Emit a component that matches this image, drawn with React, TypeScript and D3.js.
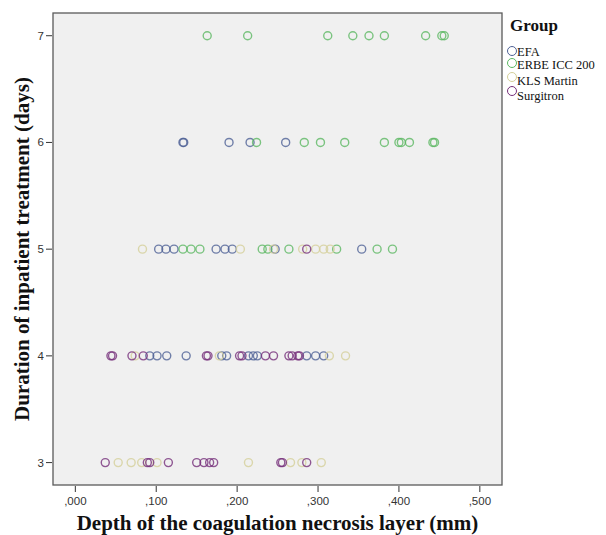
import React from 'react';
import * as d3 from 'd3';

// depth of coagulation necrosis layer (mm) by inpatient days
const groups = ['EFA', 'ERBE ICC 200', 'KLS Martin', 'Surgitron'];
const colors = ['#4f6296', '#5cb863', '#d4d09a', '#76307a'];

const efa = [
  [6, 0.133], [6, 0.134], [6, 0.19], [6, 0.216], [6, 0.26],
  [5, 0.103], [5, 0.112], [5, 0.122], [5, 0.174], [5, 0.185], [5, 0.194], [5, 0.247], [5, 0.354],
  [4, 0.092], [4, 0.101], [4, 0.113], [4, 0.137], [4, 0.181], [4, 0.187], [4, 0.214], [4, 0.22],
  [4, 0.225], [4, 0.286], [4, 0.297], [4, 0.307],
];
const erbe = [
  [7, 0.163], [7, 0.213], [7, 0.312], [7, 0.343], [7, 0.363], [7, 0.382], [7, 0.433], [7, 0.453], [7, 0.456],
  [6, 0.224], [6, 0.283], [6, 0.303], [6, 0.333], [6, 0.382], [6, 0.4], [6, 0.403], [6, 0.413], [6, 0.442], [6, 0.444],
  [5, 0.133], [5, 0.143], [5, 0.154], [5, 0.231], [5, 0.238], [5, 0.264], [5, 0.323], [5, 0.373], [5, 0.392],
];
const kls = [
  [5, 0.083], [5, 0.204], [5, 0.245], [5, 0.281], [5, 0.297], [5, 0.307], [5, 0.315],
  [4, 0.074], [4, 0.178], [4, 0.314], [4, 0.334],
  [3, 0.053], [3, 0.069], [3, 0.082], [3, 0.101], [3, 0.214], [3, 0.266], [3, 0.28], [3, 0.304],
];
const surgitron = [
  [5, 0.286],
  [4, 0.044], [4, 0.046], [4, 0.07], [4, 0.084], [4, 0.162], [4, 0.164], [4, 0.203], [4, 0.206],
  [4, 0.235], [4, 0.245], [4, 0.264], [4, 0.268], [4, 0.275], [4, 0.277],
  [3, 0.037], [3, 0.089], [3, 0.092], [3, 0.115], [3, 0.15], [3, 0.159], [3, 0.166], [3, 0.171],
  [3, 0.254], [3, 0.256], [3, 0.286],
];
const series = [efa, erbe, kls, surgitron];

const xTicks = [0, 0.1, 0.2, 0.3, 0.4, 0.5];
const yTicks = [3, 4, 5, 6, 7];

export default function App() {
  const W = 606;
  const H = 535;
  const plot = { left: 53, top: 13, right: 502, bottom: 485 };

  const x = d3.scaleLinear().domain([-0.0276, 0.5274]).range([plot.left, plot.right]);
  const y = d3.scaleLinear().domain([2.79, 7.213]).range([plot.bottom, plot.top]);
  const fmt = (v: number) => ',' + d3.format('.3f')(v).split('.')[1];

  const serif = '"Liberation Serif", "Times New Roman", serif';
  const sans = '"Liberation Sans", Arial, sans-serif';

  return (
    <div style={{ position: 'absolute', left: 0, top: 0 }}>
      <svg width={W} height={H} style={{ display: 'block', background: '#fff' }}>
        <rect
          x={plot.left}
          y={plot.top}
          width={plot.right - plot.left}
          height={plot.bottom - plot.top}
          fill="#f0f0f0"
          stroke="#5a5a5a"
          strokeWidth={1.3}
        />
        {series.map((pts, gi) => (
          <g key={groups[gi]}>
            {pts.map((p, i) => (
              <circle
                key={i}
                cx={x(p[1])}
                cy={y(p[0])}
                r={4}
                fill="none"
                stroke={colors[gi]}
                strokeOpacity={0.8}
                strokeWidth={1.4}
              />
            ))}
          </g>
        ))}
        {xTicks.map((t) => (
          <g key={t} transform={`translate(${x(t)},${plot.bottom})`}>
            <line y1={1} y2={7} stroke="#333" strokeWidth={1} />
            <text y={20} textAnchor="middle" fontFamily={sans} fontSize={11.5} fill="#333">
              {fmt(t)}
            </text>
          </g>
        ))}
        {yTicks.map((t) => (
          <g key={t} transform={`translate(${plot.left},${y(t)})`}>
            <line x1={-1} x2={-7} stroke="#333" strokeWidth={1} />
            <text x={-9} dy="0.35em" textAnchor="end" fontFamily={sans} fontSize={11.5} fill="#333">
              {t}
            </text>
          </g>
        ))}
        <text
          x={(plot.left + plot.right) / 2}
          y={530}
          textAnchor="middle"
          fontFamily={serif}
          fontWeight="bold"
          fontSize={21}
          fill="#111"
        >
          Depth of the coagulation necrosis layer (mm)
        </text>
        <text
          transform={`translate(29,${(plot.top + plot.bottom) / 2}) rotate(-90)`}
          textAnchor="middle"
          fontFamily={serif}
          fontWeight="bold"
          fontSize={21}
          fill="#111"
        >
          Duration of inpatient treatment (days)
        </text>
        <text x={510} y={31} fontFamily={serif} fontWeight="bold" fontSize={17} fill="#111">
          Group
        </text>
        {groups.map((g, i) => {
          const cy = [51, 63, 77, 91][i];
          const ty = [56, 69, 85, 100][i];
          return (
            <g key={g}>
              <circle cx={512} cy={cy} r={4.5} fill="none" stroke={colors[i]} strokeWidth={1} />
              <text x={517} y={ty} fontFamily={serif} fontSize={12.5} fill="#111">
                {g}
              </text>
            </g>
          );
        })}
      </svg>
    </div>
  );
}
